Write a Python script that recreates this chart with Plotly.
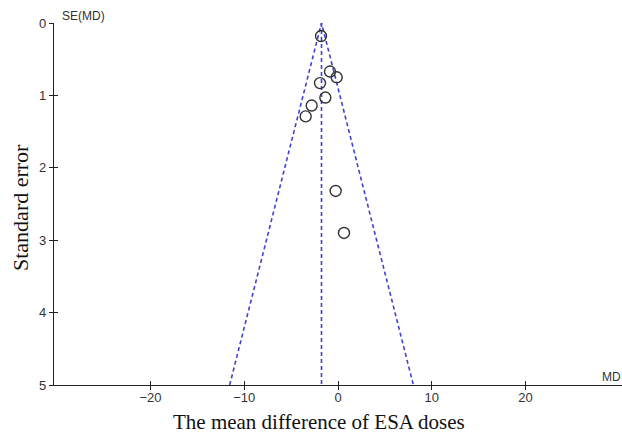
import plotly.graph_objects as go

# Study data (mean difference, standard error)
md = [-1.81, -0.85, -0.14, -1.92, -1.35, -2.81, -3.45, -0.25, 0.64]
se = [0.18, 0.67, 0.75, 0.83, 1.03, 1.14, 1.29, 2.32, 2.90]

pooled_md = -1.76
se_max = 5
z = 1.96

x_ticks = [-20, -10, 0, 10, 20]
y_ticks = [0, 1, 2, 3, 4, 5]
x_range = [-30.3, 30.3]
y_range = [5, 0]

blue = "#4040d4"
dash = "4px,3px"
fig = go.Figure()

# funnel lines
fig.add_trace(go.Scatter(
    x=[pooled_md - z * se_max, pooled_md, pooled_md + z * se_max],
    y=[se_max, 0, se_max], mode="lines",
    line=dict(color=blue, width=1.6, dash=dash), hoverinfo="skip", showlegend=False))
fig.add_trace(go.Scatter(
    x=[pooled_md, pooled_md], y=[0, se_max], mode="lines",
    line=dict(color=blue, width=1.6, dash=dash), hoverinfo="skip", showlegend=False))

# study points
fig.add_trace(go.Scatter(
    x=md, y=se, mode="markers",
    marker=dict(symbol="circle-open", size=11, color="#333333", line=dict(width=1.4, color="#333333")),
    showlegend=False))

# invisible trace for overlay axes (crossing ticks)
fig.add_trace(go.Scatter(x=[0], y=[0], xaxis="x2", yaxis="y2", mode="markers",
                         marker=dict(opacity=0), hoverinfo="skip", showlegend=False))

axis_font = dict(family="Liberation Sans, Arial, sans-serif", size=13, color="#333333")
small_font = dict(family="Liberation Sans, Arial, sans-serif", size=12, color="#333333")
serif = "Liberation Serif, Times New Roman, serif"

fig.update_layout(
    width=622, height=436,
    margin=dict(l=54, r=0, t=23, b=51),
    paper_bgcolor="white", plot_bgcolor="white",
    xaxis=dict(range=x_range, tickvals=x_ticks, ticks="outside", ticklen=4, tickwidth=1.2,
               tickcolor="#222", showline=True, linecolor="#222", linewidth=1.2,
               showgrid=False, zeroline=False, tickfont=axis_font, anchor="y",
               ticklabelstandoff=-4),
    yaxis=dict(range=y_range, tickvals=y_ticks, ticks="outside", ticklen=4, tickwidth=1.2,
               tickcolor="#222", showline=True, linecolor="#222", linewidth=1.2,
               showgrid=False, zeroline=False, tickfont=axis_font, anchor="x"),
    xaxis2=dict(range=x_range, tickvals=x_ticks, ticks="inside", ticklen=4, tickwidth=1.2,
                tickcolor="#222", showticklabels=False, showgrid=False, zeroline=False,
                overlaying="x", anchor="y2", side="bottom", showline=False),
    yaxis2=dict(range=y_range, tickvals=y_ticks, ticks="inside", ticklen=4, tickwidth=1.2,
                tickcolor="#222", showticklabels=False, showgrid=False, zeroline=False,
                overlaying="y", anchor="x2", side="left", showline=False),
    annotations=[
        dict(text="SE(MD)", x=60, y=16, showarrow=False,
             xanchor="left", yanchor="middle", font=small_font),
        dict(text="MD", x=611, y=377, showarrow=False, xanchor="center", yanchor="middle",
             font=small_font),
        dict(text="The mean difference of ESA doses", x=319, y=422, showarrow=False,
             xanchor="center", yanchor="middle",
             font=dict(family=serif, size=21, color="#111")),
        dict(text="Standard error", x=20, y=208, showarrow=False, textangle=-90,
             xanchor="center", yanchor="middle",
             font=dict(family=serif, size=22, color="#111")),
    ],
)

# convert screen-pixel annotation positions into paper coordinates
L, T, PW, PH = 54, 23, 568, 362
for a in fig.layout.annotations:
    px, py = a.x, a.y
    a.xref = "paper"; a.yref = "paper"
    a.x = (px - L) / PW
    a.y = 1 - (py - T) / PH

fig.write_html(
    "out.html",
    config={"displayModeBar": False},
    post_script="document.body.style.margin='0';document.body.style.overflow='hidden';",
)
